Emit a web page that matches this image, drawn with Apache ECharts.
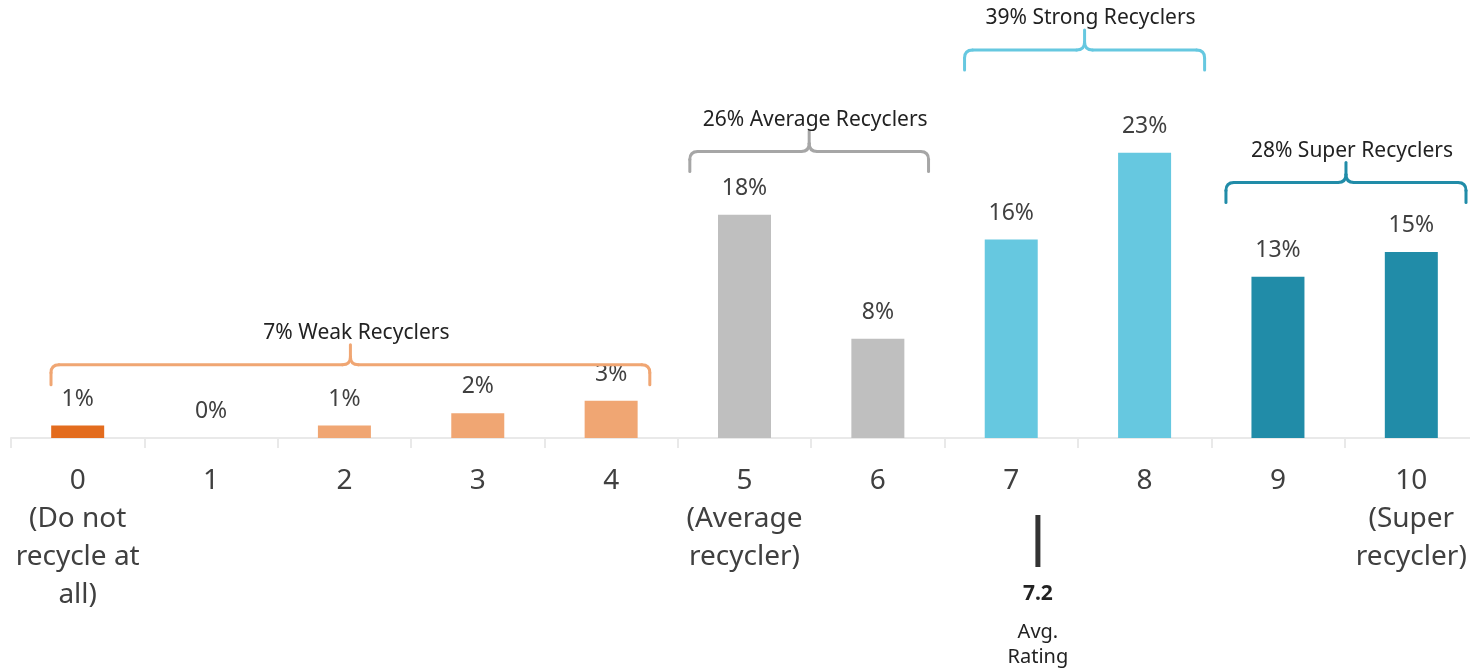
<!DOCTYPE html>
<html>
<head>
<meta charset="utf-8">
<script src="https://cdn.jsdelivr.net/npm/echarts@6/dist/echarts.min.js"></script>
<style>
  html, body { margin: 0; padding: 0; background: #ffffff; }
  #chart { width: 1470px; height: 670px; }
</style>
</head>
<body>
<div id="chart"></div>
<script>
// Recycling self-rating distribution (share of respondents, %)
const ratingLabels = [
  '0\n(Do not\nrecycle at\nall)', '1', '2', '3', '4',
  '5\n(Average\nrecycler)', '6', '7', '8', '9',
  '10\n(Super\nrecycler)'
];
const shareValues = [1, 0, 1, 2, 3, 18, 8, 16, 23, 13, 15];

// Recycler groups and which ratings they span
const groupNames = ['Weak Recyclers', 'Average Recyclers', 'Strong Recyclers', 'Super Recyclers'];
const groupShares = [7, 26, 39, 28];
const groupFirst = [0, 5, 7, 9];
const groupLast = [4, 6, 8, 10];

const averageRating = 7.2;

// ---- styling ----
const FONT = '"Noto Sans", sans-serif';
const groupColors = ['#F0A673', '#A6A6A6', '#66C8E0', '#218CA8'];
const barGroupColors = ['#F0A673', '#BFBFBF', '#66C8E0', '#218CA8'];
const zeroBarColor = '#E36C1E';
// bracket geometry: horizontal level (in value units) and extents (in category units)
const bracketLevel = [5.9, 23.1, 31.3, 20.6];
const bracketPad = [[-0.2, 0.29], [-0.41, 0.38], [-0.35, 0.45], [-0.39, 0.41]];

function groupOf(i) {
  for (let g = 0; g < groupFirst.length; g++) {
    if (i >= groupFirst[g] && i <= groupLast[g]) return g;
  }
  return 0;
}

const chart = echarts.init(document.getElementById('chart'), null, { renderer: 'canvas' });

chart.setOption({
  animation: false,
  backgroundColor: '#ffffff',
  grid: { left: 11, top: 66, width: 1467, height: 372, containLabel: false, outerBoundsMode: 'none' },
  xAxis: {
    type: 'category',
    data: ratingLabels,
    axisLine: { lineStyle: { color: '#E9E9E9', width: 2 } },
    axisTick: { show: true, alignWithLabel: false, length: 10, lineStyle: { color: '#E9E9E9', width: 2 } },
    axisLabel: {
      interval: 0,
      margin: 24,
      fontFamily: FONT,
      fontSize: 28,
      lineHeight: 38,
      color: '#404040'
    }
  },
  yAxis: {
    type: 'value',
    min: 0,
    max: 30,
    show: false,
    splitLine: { show: false }
  },
  series: [{
    type: 'bar',
    barWidth: 53,
    data: shareValues.map((v, i) => ({
      value: v,
      itemStyle: { color: i === 0 ? zeroBarColor : barGroupColors[groupOf(i)] }
    })),
    label: {
      show: true,
      position: 'top',
      distance: 15,
      formatter: p => p.value + '%',
      fontFamily: FONT,
      fontSize: 23,
      color: '#404040'
    }
  }]
});

// Brackets, group captions and the average-rating marker
function drawAnnotations() {
  const px = i => chart.convertToPixel({ xAxisIndex: 0 }, i);
  const py = v => chart.convertToPixel({ yAxisIndex: 0 }, v);
  const step = px(1) - px(0);
  const base = py(0);
  const elements = [];
  const r = 8, drop = 20, spike = 20;

  for (let g = 0; g < groupNames.length; g++) {
    const x0 = px(groupFirst[g]) + bracketPad[g][0] * step;
    const x1 = px(groupLast[g]) + bracketPad[g][1] * step;
    const xc = (x0 + x1) / 2;
    const y = py(bracketLevel[g]);
    const stroke = { fill: null, stroke: groupColors[g], lineWidth: 3, lineCap: 'round' };
    const segs = [
      { type: 'line', shape: { x1: x0, y1: y + drop, x2: x0, y2: y + r } },
      { type: 'bezierCurve', shape: { x1: x0, y1: y + r, cpx1: x0, cpy1: y, x2: x0 + r, y2: y } },
      { type: 'line', shape: { x1: x0 + r, y1: y, x2: xc - r, y2: y } },
      { type: 'bezierCurve', shape: { x1: xc - r, y1: y, cpx1: xc, cpy1: y, x2: xc, y2: y - r } },
      { type: 'line', shape: { x1: xc, y1: y - r, x2: xc, y2: y - spike } },
      { type: 'bezierCurve', shape: { x1: xc, y1: y - r, cpx1: xc, cpy1: y, x2: xc + r, y2: y } },
      { type: 'line', shape: { x1: xc + r, y1: y, x2: x1 - r, y2: y } },
      { type: 'bezierCurve', shape: { x1: x1 - r, y1: y, cpx1: x1, cpy1: y, x2: x1, y2: y + r } },
      { type: 'line', shape: { x1: x1, y1: y + r, x2: x1, y2: y + drop } }
    ];
    segs.forEach(s => { s.style = stroke; s.z = 10; elements.push(s); });
    elements.push({
      type: 'text',
      x: xc + 6,
      y: y - spike - 12,
      style: {
        text: groupShares[g] + '% ' + groupNames[g],
        fontFamily: FONT,
        fontSize: 21,
        fill: '#222222',
        align: 'center',
        verticalAlign: 'middle'
      },
      z: 11
    });
  }

  // average-rating marker placed at the mean on the category scale
  const k = Math.floor(averageRating);
  const xm = px(k) + (averageRating - k) * step;
  elements.push({
    type: 'rect',
    shape: { x: xm - 2.5, y: base + 77, width: 5, height: 52 },
    style: { fill: '#333333' }
  });
  elements.push({
    type: 'text', x: xm, y: base + 156,
    style: { text: String(averageRating), fontFamily: FONT, fontSize: 21, fontWeight: 'bold',
             fill: '#222222', align: 'center', verticalAlign: 'middle' }
  });
  elements.push({
    type: 'text', x: xm, y: base + 207,
    style: { text: 'Avg.\nRating', fontFamily: FONT, fontSize: 20, lineHeight: 25,
             fill: '#222222', align: 'center', verticalAlign: 'middle' }
  });

  chart.setOption({ graphic: elements });
}

drawAnnotations();
</script>
</body>
</html>
